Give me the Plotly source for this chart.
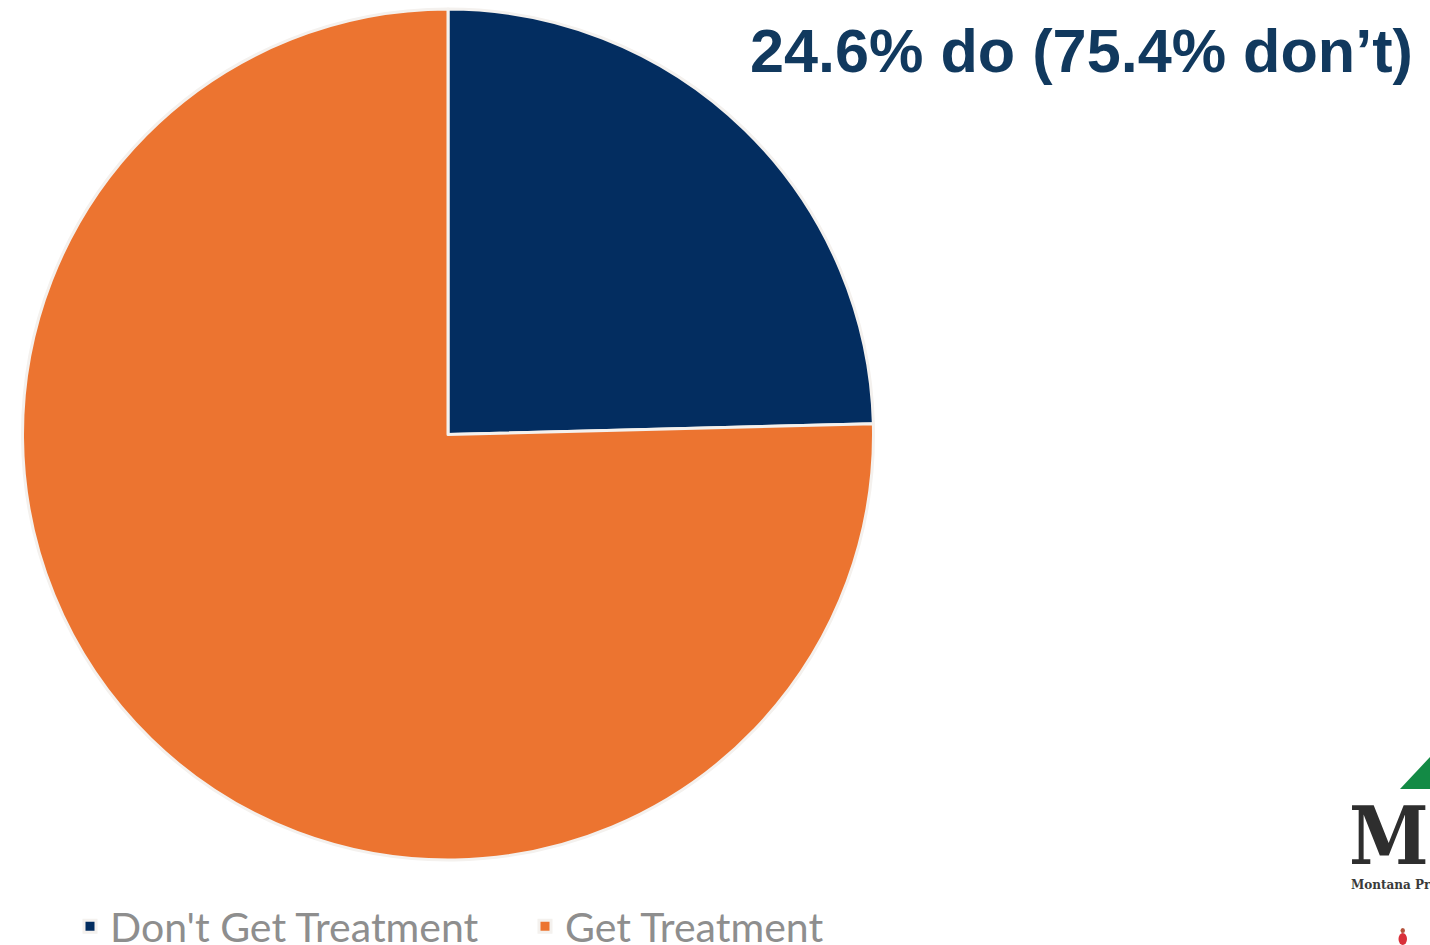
import plotly.graph_objects as go

# Treatment split
categories = ["Don't Get Treatment", "Get Treatment"]
shares = [24.6, 75.4]
slice_colors = ["#032D60", "#EC7430"]
headline = "24.6% do (75.4% don’t)"
logo_letter = "M"
logo_caption = "Montana Pr"

W, H = 1430, 945

fig = go.Figure(go.Pie(
    labels=categories,
    values=shares,
    sort=False,
    direction="clockwise",
    rotation=0,
    textinfo="none",
    hoverinfo="label+percent",
    marker=dict(colors=slice_colors, line=dict(color="#F4F1EE", width=3)),
    domain=dict(x=[22 / W, 874 / W], y=[1 - 860 / H, 1 - 9 / H]),
))

fig.update_layout(
    width=W,
    height=H,
    margin=dict(l=0, r=0, t=0, b=0, autoexpand=False),
    paper_bgcolor="white",
    plot_bgcolor="white",
    showlegend=True,
    legend=dict(
        orientation="h",
        x=70 / W,
        y=1 - 893 / H,
        xanchor="left",
        yanchor="top",
        font=dict(family="Lato, sans-serif", size=41, color="#8E8E8E"),
        itemwidth=30,
        entrywidth=410,
        entrywidthmode="pixels",
        bgcolor="rgba(0,0,0,0)",
    ),
    annotations=[
        dict(text=f"<b>{headline}</b>", x=748 / W, y=1 - 51 / H, xref="paper", yref="paper",
             xanchor="left", yanchor="middle", showarrow=False,
             font=dict(family="Liberation Sans, Arial, sans-serif", size=61.2, color="#11395E")),
        dict(text=f"<b>{logo_letter}</b>", x=1347 / W, y=1 - 836 / H, xref="paper", yref="paper",
             xanchor="left", yanchor="middle", showarrow=False,
             font=dict(family="DejaVu Serif Condensed, DejaVu Serif, serif", size=80, color="#2E2E2E")),
        dict(text=f"<b>{logo_caption}</b>", x=1349 / W, y=1 - 885 / H, xref="paper", yref="paper",
             xanchor="left", yanchor="middle", showarrow=False,
             font=dict(family="DejaVu Serif, serif", size=12, color="#3A3A3A")),
    ],
    shapes=[
        # Mountain peak of the logo, running off the right edge
        dict(type="path", xref="paper", yref="paper", line=dict(width=0), fillcolor="#138A45",
             path=f"M {1400 / W} {1 - 789 / H} L {1430 / W} {1 - 757 / H} L {1430 / W} {1 - 789 / H} Z"),
        # Small red figure under the logo
        dict(type="circle", xref="paper", yref="paper", line=dict(width=0), fillcolor="#D9303A",
             x0=1398.5 / W, x1=1407 / W, y0=1 - 945 / H, y1=1 - 933 / H),
        dict(type="circle", xref="paper", yref="paper", line=dict(width=0), fillcolor="#B5533C",
             x0=1400.5 / W, x1=1405 / W, y0=1 - 933 / H, y1=1 - 928 / H),
    ],
)

fig.write_html("out.html", config=dict(displayModeBar=False))
